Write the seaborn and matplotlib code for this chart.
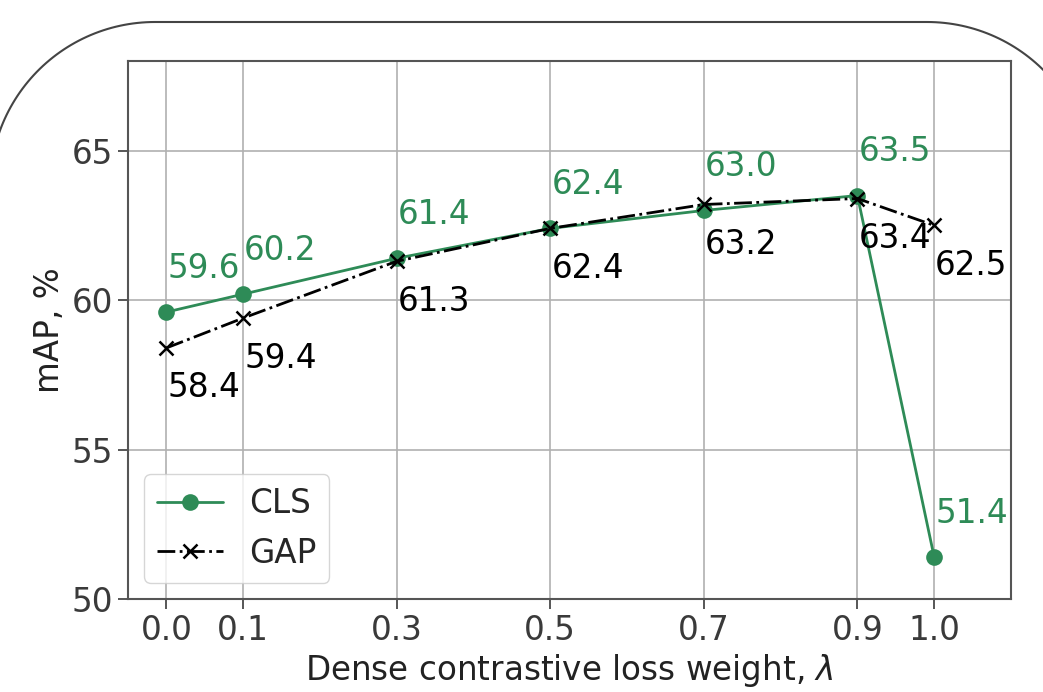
import matplotlib
matplotlib.use("Agg")
import numpy as np
import matplotlib.pyplot as plt
import seaborn as sns
from matplotlib.lines import Line2D
from matplotlib.transforms import IdentityTransform

lambdas = [0.0, 0.1, 0.3, 0.5, 0.7, 0.9, 1.0]
cls_vals = [59.6, 60.2, 61.4, 62.4, 63.0, 63.5, 51.4]
gap_vals = [58.4, 59.4, 61.3, 62.4, 63.2, 63.4, 62.5]
xtick_labels = ["0.0", "0.1", "0.3", "0.5", "0.7", "0.9", "1.0"]
yticks = [50, 55, 60, 65]

GREEN = "#2e8b57"
FS = 23.5

sns.set_style("ticks")
plt.rcParams["font.family"] = ["DejaVu Sans"]
plt.rcParams["mathtext.fontset"] = "dejavusans"

fig = plt.figure(figsize=(10.43, 6.92), dpi=100)
ax = fig.add_axes([0.1227, 0.1344, 0.9693 - 0.1227, 0.9118 - 0.1344])

# decorative rounded frame (pixel coordinates, y upward)
R = 165
top = 692 - 22
cy = top - R
lcx, rcx = 155, 927
fx = np.concatenate([[lcx - R], lcx + R * np.cos(np.linspace(np.pi, np.pi / 2, 60)),
                     rcx + R * np.cos(np.linspace(np.pi / 2, 0, 60)), [rcx + R]])
fy = np.concatenate([[-50], cy + R * np.sin(np.linspace(np.pi, np.pi / 2, 60)),
                     cy + R * np.sin(np.linspace(np.pi / 2, 0, 60)), [-50]])
frame = Line2D(fx, fy, transform=IdentityTransform(), color="#444444",
               linewidth=1.5, zorder=-10)
fig.lines.append(frame)

sns.lineplot(x=lambdas, y=cls_vals, ax=ax, color=GREEN, marker="o",
             markersize=12, markeredgewidth=0, linewidth=2, label="CLS")
sns.lineplot(x=lambdas, y=gap_vals, ax=ax, color="black", marker="x",
             markersize=10, markeredgewidth=1.8, markeredgecolor="black",
             linewidth=2, linestyle="-.", label="GAP")

for x, v in zip(lambdas, cls_vals):
    ax.annotate(f"{v:.1f}", (x, v), xytext=(1, 44), textcoords="offset pixels",
                ha="left", va="center", fontsize=FS, color=GREEN)
for x, v in zip(lambdas, gap_vals):
    ax.annotate(f"{v:.1f}", (x, v), xytext=(1, -40), textcoords="offset pixels",
                ha="left", va="center", fontsize=FS, color="black")

ax.set_xlim(-0.05, 1.1)
ax.set_ylim(50, 68)
ax.set_xticks(lambdas)
ax.set_xticklabels(xtick_labels)
ax.set_yticks(yticks)
ax.grid(True, color="#b0b0b0", linewidth=1.2)
ax.set_axisbelow(True)
ax.tick_params(labelsize=FS, colors="#3a3a3a", length=7, width=1.2)
for s in ax.spines.values():
    s.set_visible(True)
    s.set_color("#555555")
    s.set_linewidth(1.5)

ax.set_xlabel(r"Dense contrastive loss weight, $\lambda$", fontsize=FS, color="#222222")
ax.set_ylabel("mAP, %", fontsize=FS, color="#222222")

ax.legend(loc="lower left", fontsize=FS, frameon=True)

fig.savefig("out.png", dpi=100)
